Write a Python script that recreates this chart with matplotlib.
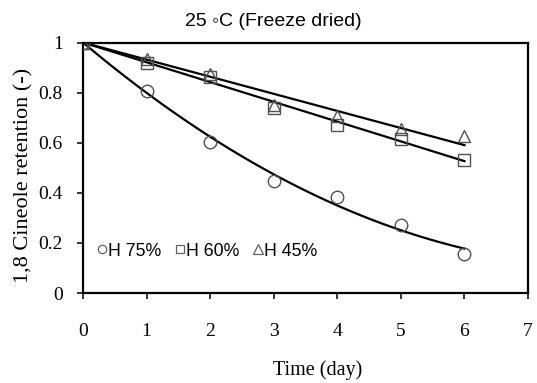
import numpy as np
import matplotlib
matplotlib.use("Agg")
import matplotlib.pyplot as plt
from matplotlib.lines import Line2D

days = [0, 1, 2, 3, 4, 5, 6]
h75 = [1.00, 0.805, 0.601, 0.449, 0.383, 0.272, 0.156]
h60 = [1.00, 0.919, 0.863, 0.739, 0.672, 0.615, 0.532]
h45 = [1.00, 0.935, 0.875, 0.752, 0.705, 0.655, 0.625]
labels = ["H 75%", "H 60%", "H 45%"]
markers = ["o", "s", "^"]

serif = ["Liberation Serif", "DejaVu Serif"]
sans = ["Liberation Sans", "DejaVu Sans"]

W, H = 537, 383
fig = plt.figure(figsize=(W/100, H/100), dpi=100)
ax = fig.add_axes([83/W, 1-293/H, (528-83)/W, (293-42.5)/H])

x = np.array(days, dtype=float)
xf = np.linspace(0, 6, 200)


def fit_through_one(y, deg):
    A = np.vstack([x**k for k in range(1, deg+1)]).T
    coef, *_ = np.linalg.lstsq(A, np.array(y) - 1.0, rcond=None)
    return 1.0 + sum(c * xf**(k+1) for k, c in enumerate(coef))


fits = [fit_through_one(h75, 2), fit_through_one(h60, 1), fit_through_one(h45, 1)]
msizes = {"o": 9, "s": 8.5, "^": 9}
for series, mk, fy in zip([h75, h60, h45], markers, fits):
    ax.plot(xf, fy, color="black", lw=1.6, zorder=2)
    ax.plot(days, series, linestyle="none", marker=mk, markersize=msizes[mk],
            markerfacecolor="none", markeredgecolor="#505050", markeredgewidth=1.0, zorder=3)

ax.set_xlim(0, 7)
ax.set_ylim(0, 1)
ax.set_xticks(range(0, 8))
ax.set_yticks([0, 0.2, 0.4, 0.6, 0.8, 1.0])
ax.set_yticklabels(["0", "0.2", "0.4", "0.6", "0.8", "1"])
for s in ax.spines.values():
    s.set_linewidth(1.6)
ax.tick_params(direction="out", length=4.5, width=1.1)
ax.tick_params(axis="y", pad=10)
ax.tick_params(axis="x", pad=17)
for lab in ax.get_xticklabels() + ax.get_yticklabels():
    lab.set_family(serif)
    lab.set_fontsize(14)

ax.set_xlabel("Time (day)", family=serif, fontsize=14.5)
ax.xaxis.set_label_coords((318-83)/(528-83), -(370-293)/(293-42.5))
ax.xaxis.label.set_va("center")
ax.set_ylabel("1,8 Cineole retention (-)", family=serif, fontsize=16)
ax.yaxis.set_label_coords(-(83-24)/(528-83), (293-175)/(293-42.5))
ax.yaxis.label.set_va("center")

fig.text(273/W, 1-21/H, "25 ◦C (Freeze dried)", family=sans, fontsize=14,
         ha="center", va="center")

handles = [Line2D([], [], linestyle="none", marker=m, markersize=6 if m != "^" else 7,
                  markerfacecolor="none", markeredgecolor="#606060", markeredgewidth=0.9)
           for m in markers]
leg = ax.legend(handles, labels, loc="center left",
                bbox_to_anchor=((98-83)/(528-83), (293-251)/(293-42.5)),
                ncol=3, frameon=False, handlelength=0.45, handletextpad=0.1,
                columnspacing=0.85, borderaxespad=0, borderpad=0,
                prop={"family": sans, "size": 12.8})

fig.savefig("out.png", dpi=100)
